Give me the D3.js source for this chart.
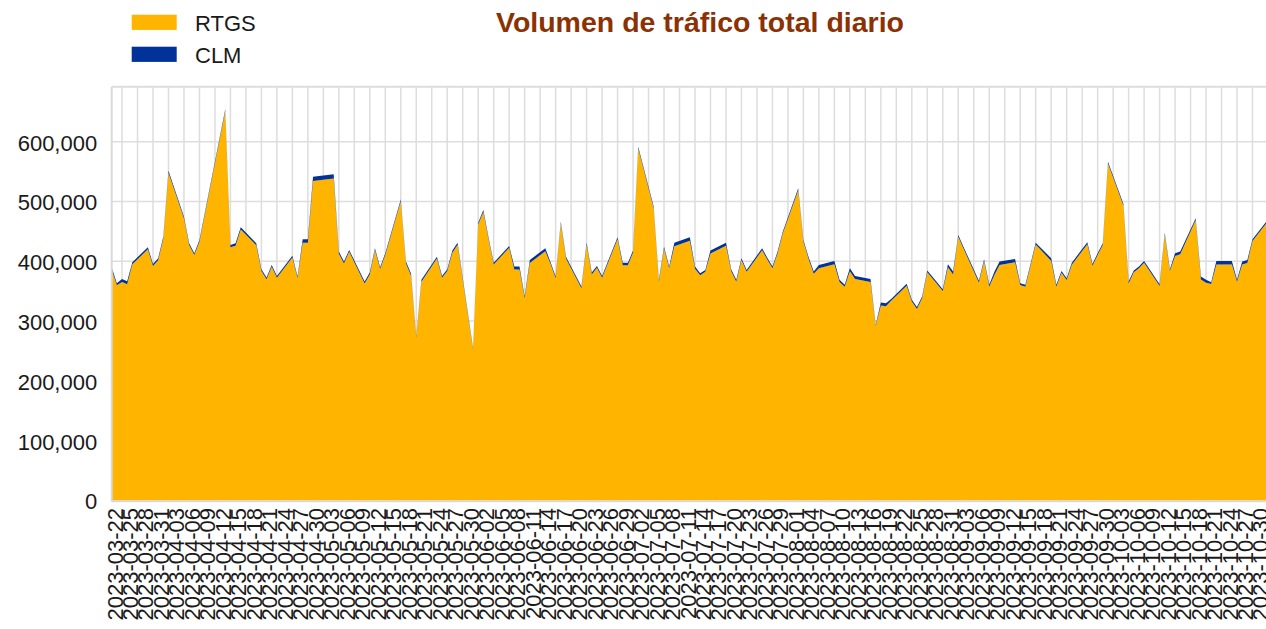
<!DOCTYPE html>
<html>
<head>
<meta charset="utf-8">
<script src="https://cdn.jsdelivr.net/npm/d3@7/dist/d3.min.js"></script>
<style>
  html, body { margin: 0; padding: 0; background: #fff; overflow: hidden; }
  svg { display: block; font-family: "Liberation Sans", Arial, sans-serif; }
</style>
</head>
<body>
<svg id="chart" width="1266" height="629"></svg>
<script>
// ---------- data ----------
const dates = [
  "2023-03-20","2023-03-21","2023-03-22","2023-03-23","2023-03-24",
  "2023-03-27","2023-03-28","2023-03-29","2023-03-30","2023-03-31",
  "2023-04-03","2023-04-04","2023-04-05","2023-04-06",
  "2023-04-11","2023-04-12","2023-04-13","2023-04-14",
  "2023-04-17","2023-04-18","2023-04-19","2023-04-20","2023-04-21",
  "2023-04-24","2023-04-25","2023-04-26","2023-04-27","2023-04-28",
  "2023-05-02","2023-05-03","2023-05-04","2023-05-05",
  "2023-05-08","2023-05-09","2023-05-10","2023-05-11","2023-05-12",
  "2023-05-15","2023-05-16","2023-05-17","2023-05-18","2023-05-19",
  "2023-05-22","2023-05-23","2023-05-24","2023-05-25","2023-05-26",
  "2023-05-29","2023-05-30","2023-05-31","2023-06-01","2023-06-02",
  "2023-06-05","2023-06-06","2023-06-07","2023-06-08","2023-06-09",
  "2023-06-12","2023-06-13","2023-06-14","2023-06-15","2023-06-16",
  "2023-06-19","2023-06-20","2023-06-21","2023-06-22","2023-06-23",
  "2023-06-26","2023-06-27","2023-06-28","2023-06-29","2023-06-30",
  "2023-07-03","2023-07-04","2023-07-05","2023-07-06","2023-07-07",
  "2023-07-10","2023-07-11","2023-07-12","2023-07-13","2023-07-14",
  "2023-07-17","2023-07-18","2023-07-19","2023-07-20","2023-07-21",
  "2023-07-24","2023-07-25","2023-07-26","2023-07-27","2023-07-28",
  "2023-07-31","2023-08-01","2023-08-02","2023-08-03","2023-08-04",
  "2023-08-07","2023-08-08","2023-08-09","2023-08-10","2023-08-11",
  "2023-08-14","2023-08-15","2023-08-16","2023-08-17","2023-08-18",
  "2023-08-21","2023-08-22","2023-08-23","2023-08-24","2023-08-25",
  "2023-08-28","2023-08-29","2023-08-30","2023-08-31","2023-09-01",
  "2023-09-04","2023-09-05","2023-09-06","2023-09-07","2023-09-08",
  "2023-09-11","2023-09-12","2023-09-13","2023-09-14","2023-09-15",
  "2023-09-18","2023-09-19","2023-09-20","2023-09-21","2023-09-22",
  "2023-09-25","2023-09-26","2023-09-27","2023-09-28","2023-09-29",
  "2023-10-02","2023-10-03","2023-10-04","2023-10-05","2023-10-06",
  "2023-10-09","2023-10-10","2023-10-11","2023-10-12","2023-10-13",
  "2023-10-16","2023-10-17","2023-10-18","2023-10-19","2023-10-20",
  "2023-10-23","2023-10-24","2023-10-25","2023-10-26","2023-10-27",
  "2023-10-30"
];

const rtgs = [
  386000,360000,365600,361800,395000,
  420000,392200,401700,437700,547900,
  471600,427200,410500,432700,
  651400,423400,426200,453400,
  426700,383800,369800,391000,372600,
  406500,371500,430900,430900,534400,
  538400,412700,396500,416000,
  363100,378100,418900,387100,410500,
  500400,396500,376000,272300,366000,
  404800,372600,383800,414400,427700,
  252900,461600,482300,437000,394800,
  422700,386200,386200,338100,397300,
  416900,396000,371500,463300,404800,
  354800,428200,378100,389300,372600,
  437200,393300,393300,414900,588500,
  488300,366000,421500,388200,425200,
  434200,387700,376600,382600,412900,
  426200,383800,366000,402200,382600,
  418400,403000,388200,413200,446600,
  519000,432700,404000,379300,388500,
  395200,365500,357600,383500,370600,
  365600,291800,326000,325000,334000,
  359300,332600,320400,338100,381500,
  350400,390200,377800,441100,421500,
  364300,400500,357600,377000,394000,
  398500,360400,357600,392700,428200,
  400700,357600,381000,368800,394300,
  428400,392700,410500,427200,563400,
  492800,363100,381500,388200,397700,
  358800,444900,383800,409000,411700,
  468900,369500,364000,362100,394700,
  394700,366000,394500,397300,433900,
  467000
];

const clm = [
  3500,3500,5000,5000,3500,
  3500,3500,3500,3500,3500,
  3000,3000,3000,3000,
  3000,4000,4000,3500,
  3500,3000,3000,3000,3000,
  3000,3000,6000,6000,7000,
  7000,3500,3000,3000,
  3000,3000,3000,3000,3000,
  3000,3000,3000,2000,3000,
  3000,3000,3000,3500,3500,
  2000,3000,3500,3000,3000,
  3000,5000,5000,3000,5000,
  5000,3000,3000,3000,3000,
  3000,3000,3000,3000,3000,
  3000,4500,4500,3000,3000,
  3000,3000,3000,3000,6000,
  6000,3500,3500,3000,5000,
  5000,3000,3000,3000,3000,
  3500,3000,3000,3000,3000,
  3000,3000,3000,3500,5500,
  5500,3500,3000,5000,5000,
  5000,2000,5000,5000,3000,
  3000,3000,3000,3000,3000,
  3000,5000,5000,3000,3000,
  3000,3000,3000,5500,5500,
  5500,3000,3000,3000,3000,
  4500,3000,3000,3000,3500,
  3500,3000,3000,3000,3000,
  3000,3000,3000,3000,3000,
  3000,3000,3000,4500,4500,
  3000,5000,5000,3000,6000,
  6000,3000,5000,5000,3000,
  3000
];

const seriesNames = ["RTGS", "CLM"];
const seriesColors = ["#FFB400", "#003299"];

const xTickLabels = [
  "2023-03-22","2023-03-25","2023-03-28","2023-03-31","2023-04-03","2023-04-06",
  "2023-04-09","2023-04-12","2023-04-15","2023-04-18","2023-04-21","2023-04-24",
  "2023-04-27","2023-04-30","2023-05-03","2023-05-06","2023-05-09","2023-05-12",
  "2023-05-15","2023-05-18","2023-05-21","2023-05-24","2023-05-27","2023-05-30",
  "2023-06-02","2023-06-05","2023-06-08","2023-06-11","2023-06-14","2023-06-17",
  "2023-06-20","2023-06-23","2023-06-26","2023-06-29","2023-07-02","2023-07-05",
  "2023-07-08","2023-07-11","2023-07-14","2023-07-17","2023-07-20","2023-07-23",
  "2023-07-26","2023-07-29","2023-08-01","2023-08-04","2023-08-07","2023-08-10",
  "2023-08-13","2023-08-16","2023-08-19","2023-08-22","2023-08-25","2023-08-28",
  "2023-08-31","2023-09-03","2023-09-06","2023-09-09","2023-09-12","2023-09-15",
  "2023-09-18","2023-09-21","2023-09-24","2023-09-27","2023-09-30","2023-10-03",
  "2023-10-06","2023-10-09","2023-10-12","2023-10-15","2023-10-18","2023-10-21",
  "2023-10-24","2023-10-27","2023-10-30"
];

const yTicks = [0, 100000, 200000, 300000, 400000, 500000, 600000];
const title = "Volumen de tráfico total diario";

// ---------- layout ----------
const parse = d3.utcParse("%Y-%m-%d");
const plot = { left: 111.7, top: 86.7, bottom: 500.5, pxPerDay: 5.162 };
const xStart = parse("2023-03-20");
const xEnd = parse("2023-10-31");
const nDays = d3.utcDay.count(xStart, xEnd);
const plotRight = plot.left + nDays * plot.pxPerDay;

const x = d3.scaleUtc().domain([xStart, xEnd]).range([plot.left, plotRight]);
const y = d3.scaleLinear().domain([0, 692000]).range([plot.bottom, plot.top]);

const svg = d3.select("#chart");

const rows = dates.map((d, i) => ({ date: parse(d), rtgs: rtgs[i], clm: clm[i] }));
const stack = d3.stack().keys(["rtgs", "clm"]);
const layers = stack(rows);

// gridlines
const gGrid = svg.append("g");
gGrid.selectAll("line.h").data(yTicks.filter(v => v > 0)).join("line")
  .attr("x1", plot.left).attr("x2", plotRight)
  .attr("y1", d => y(d)).attr("y2", d => y(d))
  .attr("stroke", "#dddddd").attr("stroke-width", 1.5);
gGrid.selectAll("line.v").data(xTickLabels.map(parse)).join("line")
  .attr("x1", d => x(d)).attr("x2", d => x(d))
  .attr("y1", plot.top).attr("y2", plot.bottom)
  .attr("stroke", "#dddddd").attr("stroke-width", 1.5);
gGrid.append("line")
  .attr("x1", plot.left).attr("x2", plotRight)
  .attr("y1", plot.top).attr("y2", plot.top)
  .attr("stroke", "#dddddd").attr("stroke-width", 2);

// areas
const area = d3.area()
  .x(d => x(d.data.date))
  .y0(d => y(d[0]))
  .y1(d => y(d[1]));
svg.append("g").selectAll("path").data(layers).join("path")
  .attr("d", area)
  .attr("fill", (d, i) => seriesColors[i]);

// axis lines
svg.append("line")
  .attr("x1", plot.left).attr("x2", plot.left)
  .attr("y1", plot.top).attr("y2", plot.bottom + 1)
  .attr("stroke", "#d9d9d9").attr("stroke-width", 2);
svg.append("line")
  .attr("x1", plot.left).attr("x2", plotRight)
  .attr("y1", plot.bottom + 0.8).attr("y2", plot.bottom + 0.8)
  .attr("stroke", "#d9d9d9").attr("stroke-width", 2);

// y axis
const yAxis = d3.axisLeft(y).tickValues(yTicks).tickFormat(d3.format(",")).tickSize(0).tickPadding(14.5);
const gy = svg.append("g").attr("transform", `translate(${plot.left},0)`).call(yAxis);
gy.select(".domain").remove();
gy.selectAll("text").attr("font-size", 22).attr("fill", "#1a1a1a").attr("dy", "0.38em")
  .style("font-family", "'Liberation Sans', Arial, sans-serif");

// x axis
const xAxis = d3.axisBottom(x).tickValues(xTickLabels.map(parse))
  .tickFormat(d3.utcFormat("%Y-%m-%d")).tickSize(0);
const gx = svg.append("g").attr("transform", `translate(0,${plot.bottom})`).call(xAxis);
gx.select(".domain").remove();
gx.selectAll("text")
  .attr("font-size", 22).attr("fill", "#1a1a1a")
  .attr("transform", "rotate(-90)")
  .attr("x", -7.5).attr("y", 0).attr("dy", 0)
  .style("text-anchor", "end")
  .style("font-family", "'Liberation Sans', Arial, sans-serif");

// title
svg.append("text")
  .attr("x", 700).attr("y", 32)
  .attr("text-anchor", "middle")
  .attr("font-size", 28.5).attr("font-weight", "bold")
  .attr("fill", "#8c3103")
  .text(title);

// legend
const legend = svg.append("g");
seriesNames.forEach((name, i) => {
  legend.append("rect")
    .attr("x", 131.7).attr("y", 14.7 + i * 32)
    .attr("width", 45).attr("height", 15.2)
    .attr("fill", seriesColors[i]);
  legend.append("text")
    .attr("x", 195).attr("y", 30.5 + i * 32)
    .attr("font-size", 22).attr("fill", "#1a1a1a")
    .text(name);
});
</script>
</body>
</html>
